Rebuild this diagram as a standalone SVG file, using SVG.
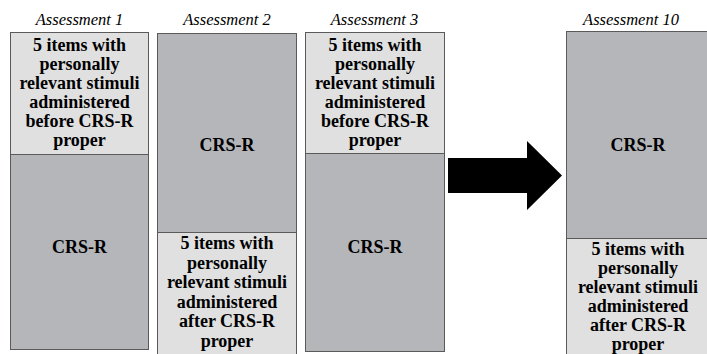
<svg xmlns="http://www.w3.org/2000/svg" width="707" height="354" viewBox="0 0 707 354">
<style>
.hd{font-style:italic;font-size:16.5px;fill:#000;text-anchor:middle}
.bt{font-weight:bold;font-size:18px;fill:#000;text-anchor:middle}
.lt{fill:#e0e0e0;stroke:#5a5a5a;stroke-width:1}
.dk{fill:#b4b6b9;stroke:#5a5a5a;stroke-width:1}
</style>
<rect width="707" height="354" fill="#fff"/>
<g font-family="Liberation Serif, serif">
<g id="assessment1">
<text class="hd" x="79.5" y="25">Assessment 1</text>
<rect class="lt" x="10.5" y="32.5" width="138" height="122"/>
<rect class="dk" x="10.5" y="154.5" width="138" height="195"/>
<text class="bt" x="79.5" y="51">5 items with</text>
<text class="bt" x="79.5" y="70">personally</text>
<text class="bt" x="79.5" y="89">relevant stimuli</text>
<text class="bt" x="79.5" y="108">administered</text>
<text class="bt" x="79.5" y="127">before CRS-R</text>
<text class="bt" x="79.5" y="146">proper</text>
<text class="bt" x="79.5" y="253">CRS-R</text>
</g>
<g id="assessment2">
<text class="hd" x="227" y="25">Assessment 2</text>
<rect class="dk" x="157.5" y="33.5" width="139" height="199"/>
<rect class="lt" x="157.5" y="232.5" width="139" height="125"/>
<text class="bt" x="227" y="151">CRS-R</text>
<text class="bt" x="227" y="249">5 items with</text>
<text class="bt" x="227" y="268.5">personally</text>
<text class="bt" x="227" y="288">relevant stimuli</text>
<text class="bt" x="227" y="307.5">administered</text>
<text class="bt" x="227" y="327">after CRS-R</text>
<text class="bt" x="227" y="346.5">proper</text>
</g>
<g id="assessment3">
<text class="hd" x="374.5" y="25">Assessment 3</text>
<rect class="lt" x="305.5" y="32.5" width="139" height="121"/>
<rect class="dk" x="305.5" y="153.5" width="139" height="198"/>
<text class="bt" x="375" y="51">5 items with</text>
<text class="bt" x="375" y="70">personally</text>
<text class="bt" x="375" y="89">relevant stimuli</text>
<text class="bt" x="375" y="108">administered</text>
<text class="bt" x="375" y="127">before CRS-R</text>
<text class="bt" x="375" y="146">proper</text>
<text class="bt" x="375" y="253">CRS-R</text>
</g>
<g id="connectors">
<polygon points="448,158 527,158 527,141 562,175.5 527,210 527,193 448,193" fill="#000"/>
</g>
<g id="assessment10">
<text class="hd" x="631" y="25">Assessment 10</text>
<rect class="dk" x="566.5" y="31.5" width="145" height="207"/>
<rect class="lt" x="566.5" y="238.5" width="145" height="125"/>
<text class="bt" x="638" y="151">CRS-R</text>
<text class="bt" x="638" y="255">5 items with</text>
<text class="bt" x="638" y="274">personally</text>
<text class="bt" x="638" y="293">relevant stimuli</text>
<text class="bt" x="638" y="312">administered</text>
<text class="bt" x="638" y="331">after CRS-R</text>
<text class="bt" x="638" y="350">proper</text>
</g>
</g>
</svg>
